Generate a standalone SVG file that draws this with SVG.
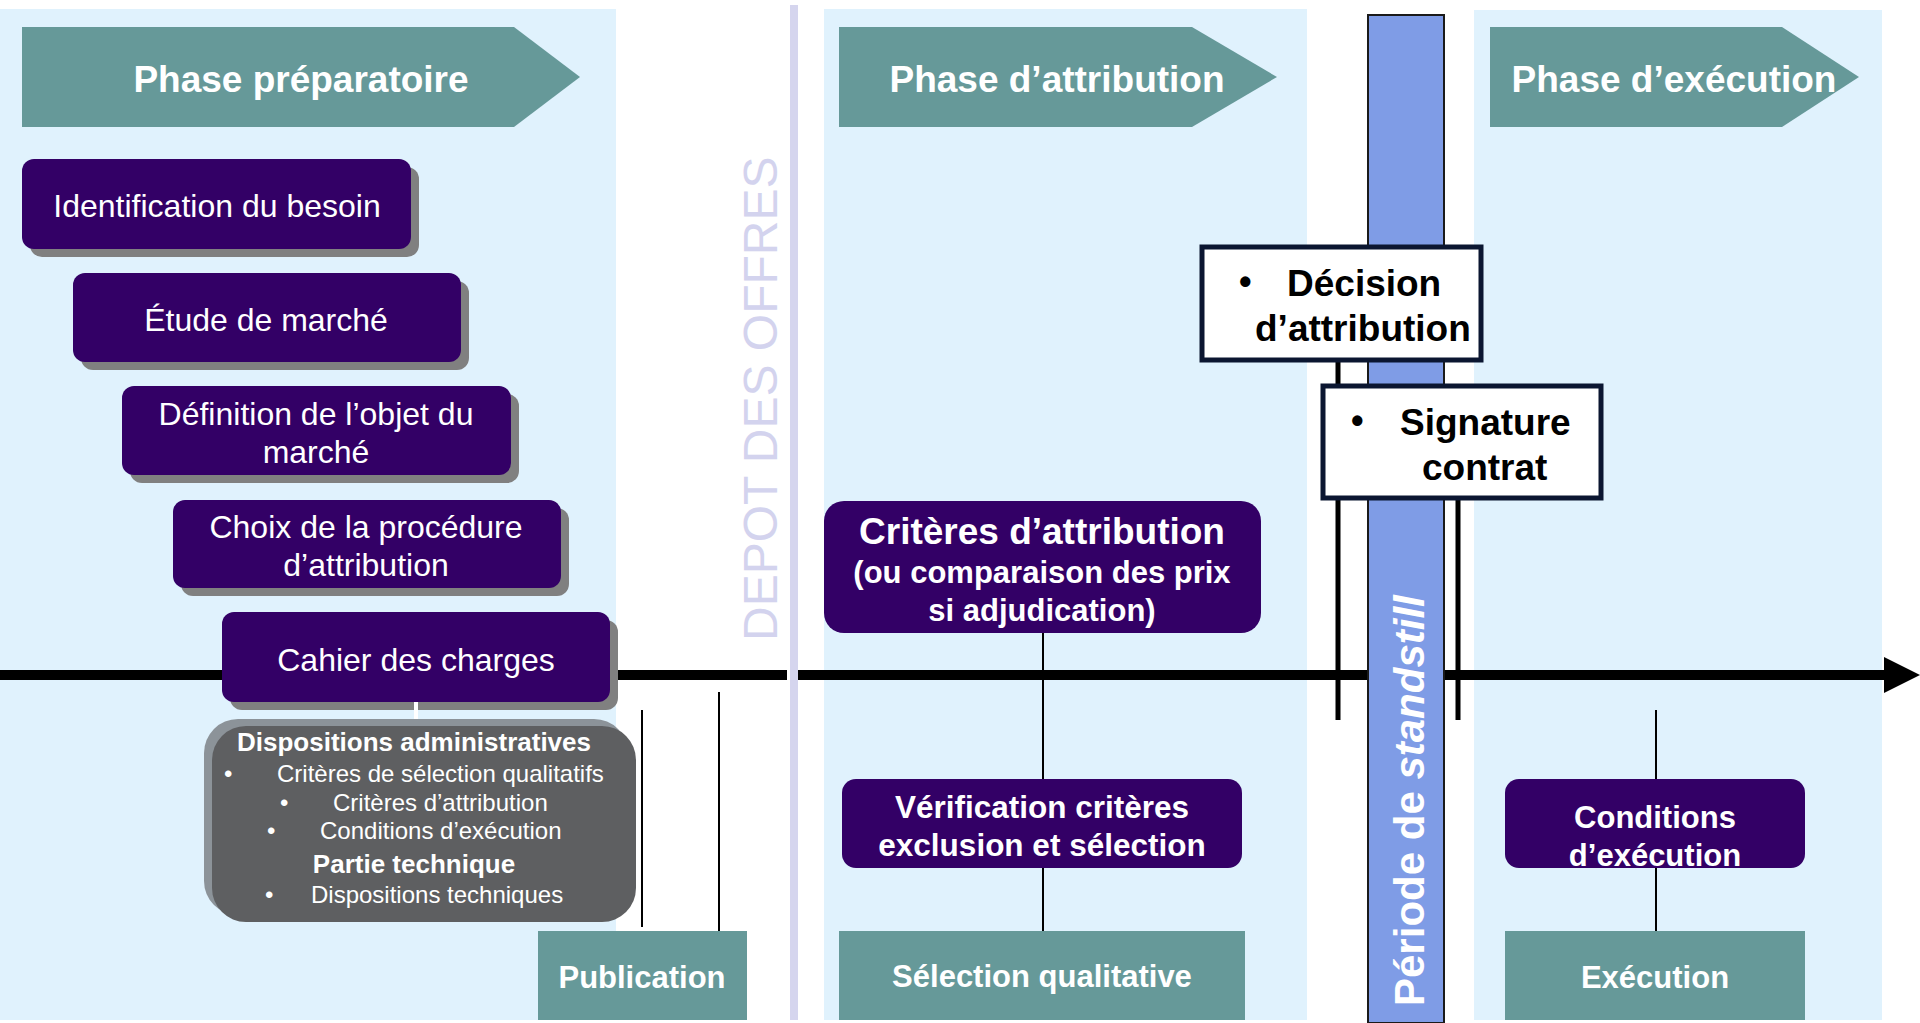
<svg xmlns="http://www.w3.org/2000/svg" width="1920" height="1023" viewBox="0 0 1920 1023">
<defs>
<style>
.panel{fill:#E0F2FD}
.phase{fill:#669999}
.ph-t{font-family:"Liberation Sans",Arial,sans-serif;font-weight:bold;font-size:37px;fill:#fff;text-anchor:middle}
.pbox{fill:#330066}
.shadow{fill:#808080}
.pb-t{font-family:"Liberation Sans",Arial,sans-serif;font-size:32px;fill:#fff;text-anchor:middle}
.bold-w{font-family:"Liberation Sans",Arial,sans-serif;font-weight:bold;font-size:31px;fill:#fff;text-anchor:middle}
.big{font-size:37px}
.g-t{font-family:"Liberation Sans",Arial,sans-serif;font-size:24px;fill:#fff}
.g-b{font-family:"Liberation Sans",Arial,sans-serif;font-weight:bold;font-size:26px;fill:#fff;text-anchor:middle}
.k-t{font-family:"Liberation Sans",Arial,sans-serif;font-weight:bold;font-size:37px;fill:#000}
.bul{font-size:36px}
.teal{fill:#669999}
.thin{stroke:#000;stroke-width:2;fill:none}
.thick{stroke:#000;stroke-width:5;fill:none}
.wbox{fill:#fff;stroke:#0b1631;stroke-width:5}
</style>
</defs>

<g id="backgrounds">
<rect class="panel" x="0" y="9" width="616" height="1011"/>
<rect class="panel" x="824" y="9" width="483" height="1011"/>
<rect class="panel" x="1474" y="10" width="408" height="1010"/>
</g>

<g id="connectors">
<line class="thin" x1="642" y1="710" x2="642" y2="927"/>
<line class="thin" x1="719" y1="692" x2="719" y2="1020"/>
<line class="thin" x1="1043" y1="633" x2="1043" y2="931"/>
<line class="thin" x1="1656" y1="710" x2="1656" y2="931"/>
<line class="thick" x1="1338" y1="362" x2="1338" y2="720"/>
<line class="thick" x1="1458" y1="500" x2="1458" y2="720"/>
<rect x="0" y="670" width="787" height="10" fill="#000"/>
<rect x="798" y="670" width="1088" height="10" fill="#000"/>
<polygon points="1884,657 1920,675 1884,693" fill="#000"/>
</g>

<g id="depot">
<rect x="790" y="5" width="8" height="1015" fill="#D5D5EE"/>
<text x="777" y="641" transform="rotate(-90 777 641)" font-family="Liberation Sans, Arial, sans-serif" font-size="48" fill="#D3D3EE">DEPOT DES OFFRES</text>
</g>

<g id="standstill">
<rect x="1368" y="15" width="76" height="1008" fill="#7F9CE6" stroke="#1a1a1a" stroke-width="2"/>
<text transform="translate(1424,1006) rotate(-90)" font-family="Liberation Sans, Arial, sans-serif" font-weight="bold" font-size="42" fill="#fff">Période de <tspan font-style="italic">standstill</tspan></text>
</g>

<g id="phase-preparatoire">
<polygon class="phase" points="22,27 514,27 580,77 514,127 22,127"/>
<text class="ph-t" x="301" y="92">Phase préparatoire</text>
</g>
<g id="phase-attribution">
<polygon class="phase" points="839,27 1192,27 1277,77 1192,127 839,127"/>
<text class="ph-t" x="1057" y="92">Phase d’attribution</text>
</g>
<g id="phase-execution">
<polygon class="phase" points="1490,27 1782,27 1859,77 1782,127 1490,127"/>
<text class="ph-t" x="1674" y="92">Phase d’exécution</text>
</g>

<g id="identification">
<rect class="shadow" x="30" y="167" width="389" height="90" rx="12"/>
<rect class="pbox" x="22" y="159" width="389" height="90" rx="12"/>
<text class="pb-t" x="217" y="217">Identification du besoin</text>
</g>
<g id="etude">
<rect class="shadow" x="81" y="281" width="388" height="89" rx="12"/>
<rect class="pbox" x="73" y="273" width="388" height="89" rx="12"/>
<text class="pb-t" x="266" y="331">Étude de marché</text>
</g>
<g id="definition">
<rect class="shadow" x="130" y="394" width="389" height="89" rx="12"/>
<rect class="pbox" x="122" y="386" width="389" height="89" rx="12"/>
<text class="pb-t" x="316" y="425">Définition de l’objet du</text>
<text class="pb-t" x="316" y="463">marché</text>
</g>
<g id="choix">
<rect class="shadow" x="181" y="508" width="388" height="88" rx="12"/>
<rect class="pbox" x="173" y="500" width="388" height="88" rx="12"/>
<text class="pb-t" x="366" y="538">Choix de la procédure</text>
<text class="pb-t" x="366" y="576">d’attribution</text>
</g>
<g id="cahier">
<rect class="shadow" x="230" y="620" width="388" height="90" rx="12"/>
<rect class="pbox" x="222" y="612" width="388" height="90" rx="12"/>
<text class="pb-t" x="416" y="671">Cahier des charges</text>
</g>

<g id="cahier-link">
<rect x="414" y="702" width="4" height="19" fill="#fff"/>
</g>

<g id="dispositions">
<rect x="204" y="719" width="424" height="196" rx="34" fill="#8C9399"/>
<rect x="212" y="726" width="424" height="196" rx="34" fill="#5E5F61"/>
<text class="g-b" x="414" y="751">Dispositions administratives</text>
<text class="g-t" x="224" y="782">•</text>
<text class="g-t" x="277" y="782">Critères de sélection qualitatifs</text>
<text class="g-t" x="280" y="811">•</text>
<text class="g-t" x="333" y="811">Critères d’attribution</text>
<text class="g-t" x="267" y="839">•</text>
<text class="g-t" x="320" y="839">Conditions d’exécution</text>
<text class="g-b" x="414" y="873">Partie technique</text>
<text class="g-t" x="265" y="903">•</text>
<text class="g-t" x="311" y="903">Dispositions techniques</text>
</g>

<g id="publication">
<rect class="teal" x="538" y="931" width="209" height="89"/>
<text class="bold-w" x="642" y="988">Publication</text>
</g>

<g id="criteres-attribution">
<rect class="pbox" x="824" y="501" width="437" height="132" rx="20"/>
<text class="bold-w big" x="1042" y="544">Critères d’attribution</text>
<text class="bold-w" x="1042" y="583">(ou comparaison des prix</text>
<text class="bold-w" x="1042" y="621">si adjudication)</text>
</g>

<g id="verification">
<rect class="pbox" x="842" y="779" width="400" height="89" rx="14"/>
<text class="bold-w" x="1042" y="818" style="font-size:31.5px">Vérification critères</text>
<text class="bold-w" x="1042" y="856" style="font-size:31.5px">exclusion et sélection</text>
</g>

<g id="selection">
<rect class="teal" x="839" y="931" width="406" height="89"/>
<text class="bold-w" x="1042" y="987">Sélection qualitative</text>
</g>

<g id="decision">
<rect class="wbox" x="1202" y="247" width="279" height="113"/>
<text class="k-t bul" x="1239" y="294">•</text>
<text class="k-t" x="1287" y="296">Décision</text>
<text class="k-t" x="1255" y="341">d’attribution</text>
</g>

<g id="signature">
<rect class="wbox" x="1323" y="386" width="278" height="112"/>
<text class="k-t bul" x="1351" y="433">•</text>
<text class="k-t" x="1400" y="435">Signature</text>
<text class="k-t" x="1422" y="480">contrat</text>
</g>

<g id="conditions">
<rect class="pbox" x="1505" y="779" width="300" height="89" rx="14"/>
<text class="bold-w" x="1655" y="828">Conditions</text>
<text class="bold-w" x="1655" y="866">d’exécution</text>
</g>

<g id="execution">
<rect class="teal" x="1505" y="931" width="300" height="89"/>
<text class="bold-w" x="1655" y="988">Exécution</text>
</g>
</svg>
